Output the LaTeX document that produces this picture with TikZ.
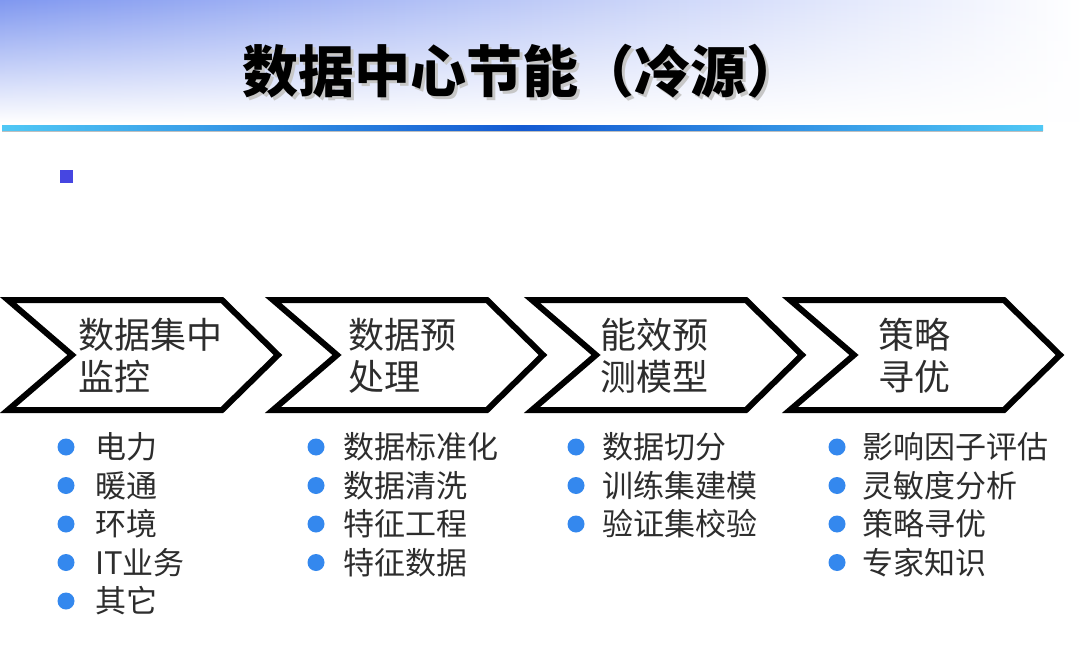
\documentclass[tikz,border=0pt]{standalone}
\usepackage{fontspec}
\newfontfamily\cjk{Noto Sans CJK SC}
\usetikzlibrary{fadings}
\definecolor{headblue}{RGB}{128,152,240}
\definecolor{rulecyan}{RGB}{80,200,245}
\definecolor{ruleblue}{RGB}{20,90,210}
\definecolor{sqblue}{RGB}{70,70,225}
\definecolor{bullblue}{RGB}{52,136,238}
\definecolor{ink}{RGB}{45,45,45}
\newcommand{\shadowed}[1]{\makebox[0pt][l]{\hspace{3pt}\raisebox{-3pt}{\color{black!22}#1}}#1}
\tikzset{
  chevron/.style={draw=black, line width=6pt, fill=white, line join=miter},
  stagetext/.style={anchor=west, align=left, inner sep=0pt, text=ink,
    font=\cjk\fontsize{36pt}{42pt}\selectfont},
  dot/.style={circle, fill=bullblue, minimum size=17pt, inner sep=0pt},
  itemtext/.style={anchor=west, inner sep=0pt, text=ink,
    font=\cjk\fontsize{31pt}{36pt}\selectfont},
  titletext/.style={inner sep=0pt, font=\cjk\bfseries\fontsize{56pt}{60pt}\selectfont}
}
\begin{document}
\begin{tikzpicture}[x=1pt,y=-1pt]
\useasboundingbox (0,0) rectangle (1084,671);
\fill[white] (0,0) rectangle (1084,671);
% header band
\shade[left color=headblue, right color=white, path fading=south] (0,0) rectangle (1084,122);
% title with soft shadow
\node[titletext, text=black] (title) at (522,73) {\shadowed{数据中心节能（冷源）}};
% rule under the title
\fill[black!25] (2,130.5) rectangle (1043,132.5);
\shade[left color=rulecyan, right color=rulecyan, middle color=ruleblue] (2,126) rectangle (1043,131);
% small square bullet
\fill[sqblue] (60,170) rectangle (73,183);
% process chevrons
\foreach \L in {8,273,532,790}
  \draw[chevron] (\L,300) -- ++(214,0) -- ++(56,55) -- ++(-56,55) -- ++(-214,0) -- ++(64,-55) -- cycle;
\node[stagetext] (s1) at (78,356) {数据集中\\监控};
\node[stagetext] (s2) at (348,356) {数据预\\处理};
\node[stagetext] (s3) at (600,356) {能效预\\测模型};
\node[stagetext] (s4) at (878,356) {策略\\寻优};
% bullet lists
\foreach \t [count=\k] in {电力,暖通,环境,IT业务,其它} {
  \node[dot] (a\k) at (66,{447+38.5*(\k-1)}) {};
  \node[itemtext] (at\k) at (95,{447+38.5*(\k-1)}) {\t};
}
\foreach \t [count=\k] in {数据标准化,数据清洗,特征工程,特征数据} {
  \node[dot] (b\k) at (316,{447+38.5*(\k-1)}) {};
  \node[itemtext] (bt\k) at (343,{447+38.5*(\k-1)}) {\t};
}
\foreach \t [count=\k] in {数据切分,训练集建模,验证集校验} {
  \node[dot] (c\k) at (576,{447+38.5*(\k-1)}) {};
  \node[itemtext] (ct\k) at (602,{447+38.5*(\k-1)}) {\t};
}
\foreach \t [count=\k] in {影响因子评估,灵敏度分析,策略寻优,专家知识} {
  \node[dot] (d\k) at (837,{447+38.5*(\k-1)}) {};
  \node[itemtext] (dt\k) at (862,{447+38.5*(\k-1)}) {\t};
}
\end{tikzpicture}
\end{document}
